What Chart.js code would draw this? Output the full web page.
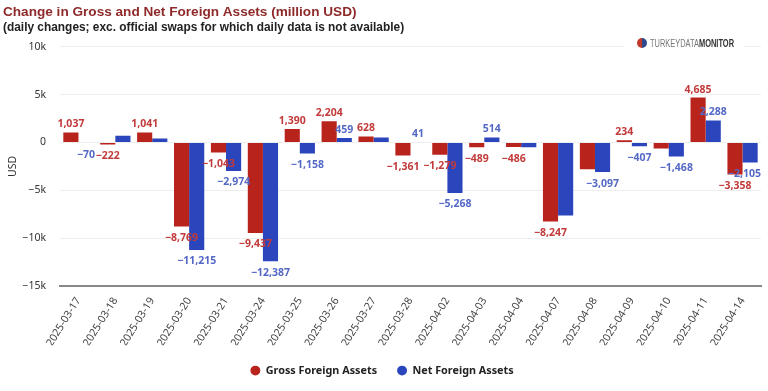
<!DOCTYPE html>
<html>
<head>
<meta charset="utf-8">
<script src="https://cdn.jsdelivr.net/npm/chart.js@4"></script>
<style>
  html, body { margin: 0; padding: 0; background: #fff; }
  canvas { display: block; }
</style>
</head>
<body>
<canvas id="chart" width="768" height="391"></canvas>
<script>
const dates = [
  "2025-03-17", "2025-03-18", "2025-03-19", "2025-03-20", "2025-03-21",
  "2025-03-24", "2025-03-25", "2025-03-26", "2025-03-27", "2025-03-28",
  "2025-04-02", "2025-04-03", "2025-04-04", "2025-04-07", "2025-04-08",
  "2025-04-09", "2025-04-10", "2025-04-11", "2025-04-14"
];
const grossAssets = [1037, -222, 1041, -8769, -1043, -9437, 1390, 2204, 628, -1361, -1279, -489, -486, -8247, -2810, 234, -625, 4685, -3358];
const netAssets = [-70, 690, 420, -11215, -2974, -12387, -1158, 459, 520, 41, -5268, 514, -490, -7635, -3097, -407, -1468, 2288, -2105];

// the original hides labels that collide, these dates have none
const grossNoLabel = ["2025-04-08", "2025-04-10"];
const netNoLabel = ["2025-03-18", "2025-03-19", "2025-03-27", "2025-04-04", "2025-04-07"];

const yTicks = [-15000, -10000, -5000, 0, 5000, 10000];

const RED = "#b8231c";
const BLUE = "#2b45bd";
const LABEL_RED = "#c23a3a";
const LABEL_BLUE = "#5468c6";
const MINUS = "\u2212";

function withMinus(text) {
  return String(text).replace("-", MINUS);
}

const valueLabels = {
  id: "valueLabels",
  afterDatasetsDraw(chart) {
    const { ctx, chartArea } = chart;
    chart.data.datasets.forEach((dataset, i) => {
      const meta = chart.getDatasetMeta(i);
      const hidden = i === 0 ? grossNoLabel : netNoLabel;
      meta.data.forEach((bar, index) => {
        if (hidden.includes(dates[index])) return;
        const value = dataset.data[index];
        const text = withMinus(value.toLocaleString("en-US"));
        ctx.save();
        ctx.font = "bold 10.5px 'Noto Sans'";
        ctx.fillStyle = i === 0 ? LABEL_RED : LABEL_BLUE;
        ctx.textAlign = "center";
        ctx.textBaseline = "middle";
        const y = value >= 0 ? bar.y - 8 : bar.y + 11.5;
        // keep labels inside the plot on the right edge
        const half = ctx.measureText(text).width / 2;
        const x = Math.min(bar.x, chartArea.right - half);
        ctx.fillText(text, x, y);
        ctx.restore();
      });
    });
  }
};

const logo = {
  id: "logo",
  afterDraw(chart) {
    const { ctx } = chart;
    ctx.save();
    ctx.fillStyle = "#fff";
    ctx.fillRect(624, 40, 120, 10);
    // small pie mark
    ctx.fillStyle = "#c0392b";
    ctx.beginPath();
    ctx.moveTo(642, 43);
    ctx.arc(642, 43, 5, Math.PI * 0.5, Math.PI * 1.5);
    ctx.fill();
    ctx.fillStyle = "#2f4a8f";
    ctx.beginPath();
    ctx.moveTo(642, 43);
    ctx.arc(642, 43, 5, Math.PI * 1.5, Math.PI * 0.5);
    ctx.fill();
    // the wordmark is condensed, squeeze it horizontally
    ctx.translate(650, 44);
    ctx.scale(0.745, 1);
    ctx.textBaseline = "middle";
    ctx.textAlign = "left";
    ctx.font = "10px 'Liberation Sans'";
    ctx.fillStyle = "#777";
    ctx.fillText("TURKEYDATA", 0, 0);
    const w = ctx.measureText("TURKEYDATA").width;
    ctx.font = "bold 10px 'Liberation Sans'";
    ctx.fillStyle = "#333";
    ctx.fillText("MONITOR", w, 0);
    ctx.restore();
  }
};

new Chart(document.getElementById("chart").getContext("2d"), {
  type: "bar",
  data: {
    labels: dates,
    datasets: [
      { label: "Gross Foreign Assets", data: grossAssets, backgroundColor: RED, hoverBackgroundColor: RED },
      { label: "Net Foreign Assets", data: netAssets, backgroundColor: BLUE, hoverBackgroundColor: BLUE }
    ]
  },
  options: {
    responsive: false,
    animation: false,
    layout: { padding: { left: 3, right: 7, top: 0, bottom: 5 } },
    datasets: { bar: { categoryPercentage: 0.82, barPercentage: 1 } },
    plugins: {
      title: {
        display: true,
        text: "Change in Gross and Net Foreign Assets (million USD)",
        align: "start",
        color: "#8f2a2a",
        font: { family: "'Liberation Sans'", size: 13.6, weight: "bold" },
        padding: { top: 4, bottom: 0 }
      },
      subtitle: {
        display: true,
        text: "(daily changes; exc. official swaps for which daily data is not available)",
        align: "start",
        color: "#222",
        font: { family: "'Liberation Sans'", size: 11.9, weight: "bold" },
        padding: { top: 0, bottom: 12 }
      },
      legend: {
        position: "bottom",
        labels: {
          usePointStyle: true,
          pointStyle: "circle",
          boxHeight: 7,
          boxWidth: 10,
          padding: 20,
          color: "#222",
          font: { family: "'Noto Sans'", size: 10.8, weight: "bold" }
        }
      },
      tooltip: { enabled: false }
    },
    scales: {
      x: {
        afterFit(axis) {
          axis.height = 59;
        },
        grid: { display: false, drawTicks: false },
        border: { color: "#888", width: 2 },
        ticks: {
          autoSkip: false,
          minRotation: 58,
          maxRotation: 58,
          padding: 9,
          color: "#444",
          font: { family: "'Noto Sans'", size: 10.6 }
        }
      },
      y: {
        min: -15000,
        max: 10000,
        afterBuildTicks(axis) {
          axis.ticks = yTicks.map(value => ({ value }));
        },
        afterFit(axis) {
          axis.width = 57;
        },
        grid: { color: "#eeeeee", drawTicks: false },
        border: { display: false },
        title: {
          display: true,
          text: "USD",
          color: "#333",
          font: { family: "'Noto Sans'", size: 10.5 },
          padding: { top: 4, bottom: 0 }
        },
        ticks: {
          padding: 14,
          color: "#333",
          font: { family: "'Noto Sans'", size: 10.5 },
          callback(value) {
            return value === 0 ? "0" : withMinus(value / 1000) + "k";
          }
        }
      }
    }
  },
  plugins: [valueLabels, logo]
});
</script>
</body>
</html>
